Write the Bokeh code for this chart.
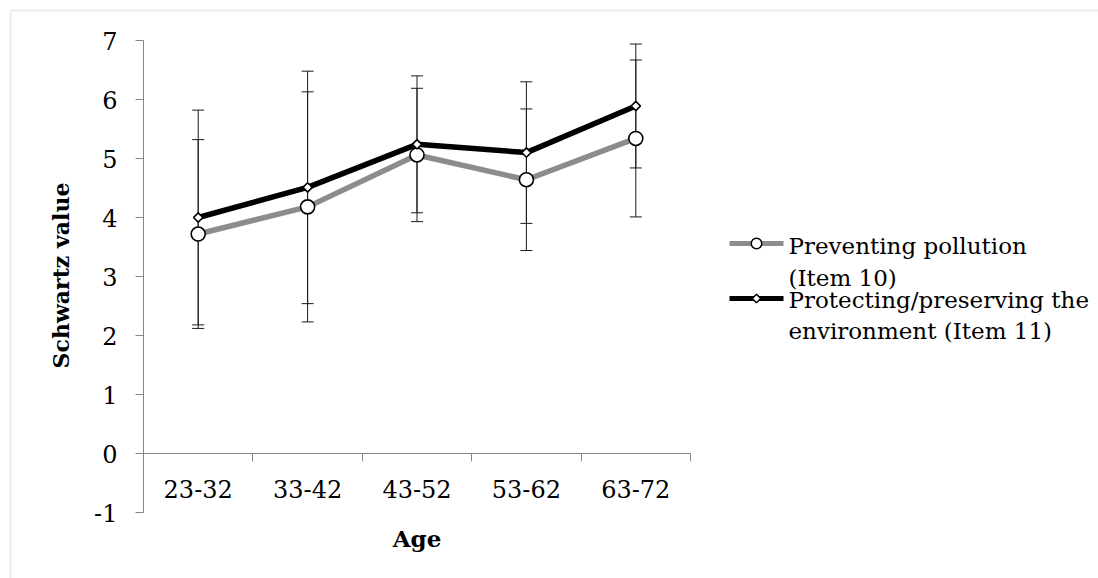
import math
from bokeh.plotting import figure
from bokeh.models import (Range1d, FixedTicker, ColumnDataSource, Whisker, TeeHead,
                          Label, BoxAnnotation, LinearAxis)
from bokeh.core.properties import value
from bokeh.embed import file_html
from bokeh.resources import INLINE

# ---- data ----
ages = ["23-32", "33-42", "43-52", "53-62", "63-72"]
pollution_mean = [3.72, 4.18, 5.06, 4.64, 5.34]
pollution_sd = [1.60, 1.95, 1.13, 1.20, 1.33]
environment_mean = [4.00, 4.51, 5.24, 5.10, 5.89]
environment_sd = [1.82, 1.97, 1.16, 1.20, 1.05]
y_ticks = [-1, 0, 1, 2, 3, 4, 5, 6, 7]
series_names = ["Preventing pollution\n(Item 10)", "Protecting/preserving the\nenvironment (Item 11)"]
x_title = "Age"
y_title = "Schwartz value"

FONT = "DejaVu Serif"
FS = "24px"
AXIS_GRAY = "#868686"

# category positions on a numeric scale (one unit per category)
xc = [i + 0.5 for i in range(len(ages))]
bounds = list(range(len(ages) + 1))

W, H = 1098, 578
# plot-area placement in pixels (frame covers whole canvas; axes are fixed inside)
PX_LEFT, PX_RIGHT = 143.0, 690.0
PX_TOP, PX_BOTTOM = 40.0, 512.0
ux = (PX_RIGHT - PX_LEFT) / len(ages)
uy = (PX_BOTTOM - PX_TOP) / (y_ticks[-1] - y_ticks[0])
x_range = Range1d(-PX_LEFT / ux, (W - PX_LEFT) / ux)
y_range = Range1d(y_ticks[-1] - (H - PX_TOP) / uy, y_ticks[-1] + PX_TOP / uy)

def px_to_x(px):
    return (px - PX_LEFT) / ux

def px_to_y(py):
    return y_ticks[-1] - (py - PX_TOP) / uy

p = figure(width=W, height=H, x_range=x_range, y_range=y_range,
           output_backend="svg", toolbar_location=None,
           x_axis_location=None, y_axis_location=None,
           min_border_left=0, min_border_right=0, min_border_top=0, min_border_bottom=0)
p.outline_line_color = None
p.xgrid.visible = False
p.ygrid.visible = False
p.background_fill_color = "white"
p.border_fill_color = "white"

yax = LinearAxis(fixed_location=0, bounds=(y_ticks[0], y_ticks[-1]),
                 ticker=FixedTicker(ticks=y_ticks))
yax.axis_line_color = AXIS_GRAY
yax.major_tick_line_color = AXIS_GRAY
yax.major_tick_out = 8
yax.major_tick_in = 0
yax.minor_tick_line_color = None
yax.major_label_standoff = 18
yax.major_label_text_font = FONT
yax.major_label_text_font_size = FS
yax.major_label_text_color = "black"
yax.major_label_overrides = {t: str(t) for t in y_ticks}
p.add_layout(yax, "left")

xax = LinearAxis(fixed_location=0, bounds=(bounds[0], bounds[-1]),
                 ticker=FixedTicker(ticks=xc, minor_ticks=bounds))
xax.axis_line_color = AXIS_GRAY
xax.major_tick_line_color = None
xax.major_tick_out = 0
xax.major_tick_in = 0
xax.minor_tick_line_color = AXIS_GRAY
xax.minor_tick_out = 8
xax.minor_tick_in = 0
xax.major_label_standoff = 18
xax.major_label_text_font = FONT
xax.major_label_text_font_size = FS
xax.major_label_text_color = "black"
xax.major_label_overrides = {x: a for x, a in zip(xc, ages)}
p.add_layout(xax, "below")

# error bars
for mean, sd in ((pollution_mean, pollution_sd), (environment_mean, environment_sd)):
    src = ColumnDataSource(dict(x=xc, upper=[m + s for m, s in zip(mean, sd)],
                                lower=[m - s for m, s in zip(mean, sd)]))
    w = Whisker(base="x", upper="upper", lower="lower", source=src, line_color="#1a1a1a", line_width=1,
                upper_head=TeeHead(size=12, line_color="#1a1a1a", line_width=1),
                lower_head=TeeHead(size=12, line_color="#1a1a1a", line_width=1))
    p.add_layout(w)

styles = [
    dict(line_color="#8c8c8c", marker="circle", size=14, legend_size=10.5, angle=0.0),
    dict(line_color="black", marker="square", size=6.6, legend_size=6.0, angle=math.pi / 4),
]
means = [pollution_mean, environment_mean]

for mean, st in zip(means, styles):
    p.line(xc, mean, line_color=st["line_color"], line_width=5.5)
    p.scatter(xc, mean, marker=st["marker"], size=st["size"], angle=st["angle"],
              fill_color="white", line_color="black", line_width=1.6)

# ---- legend (drawn in the canvas area at the right) ----
LEG_X0, LEG_X1, LEG_TX = 729, 783, 788
leg_glyph_rows = [243, 298]
leg_text_rows = [[245, 277], [299, 330]]
for name, st, gy, trows in zip(series_names, styles, leg_glyph_rows, leg_text_rows):
    p.segment(x0=[px_to_x(LEG_X0)], x1=[px_to_x(LEG_X1)], y0=[px_to_y(gy)], y1=[px_to_y(gy)],
              line_color=st["line_color"], line_width=5)
    p.scatter(x=[px_to_x((LEG_X0 + LEG_X1) / 2)], y=[px_to_y(gy)], marker=st["marker"],
              size=st["legend_size"], angle=st["angle"], fill_color="white", line_color="black",
              line_width=1.5)
    lines = name.split("\n")
    p.text(x=[px_to_x(LEG_TX)] * len(lines), y=[px_to_y(r) for r in trows], text=lines,
           text_align="left", text_baseline="middle", text_font=value(FONT),
           text_font_size="23px", text_color="black")

p.add_layout(Label(x=px_to_x(60), y=px_to_y(275), text=y_title, angle=math.pi / 2, text_align="center",
                   text_baseline="middle", text_font=FONT, text_font_style="bold",
                   text_font_size="22px", text_color="black"))
p.add_layout(Label(x=(bounds[0] + bounds[-1]) / 2, y=px_to_y(538), text=x_title, text_align="center",
                   text_baseline="middle", text_font=FONT, text_font_style="bold",
                   text_font_size="23px", text_color="black"))

p.add_layout(BoxAnnotation(left=px_to_x(10), right=px_to_x(3000), top=px_to_y(10), bottom=px_to_y(3000),
                           fill_alpha=0, line_color="#c0c0c0", line_width=2))

open("out.html", "w").write(file_html(p, INLINE))
